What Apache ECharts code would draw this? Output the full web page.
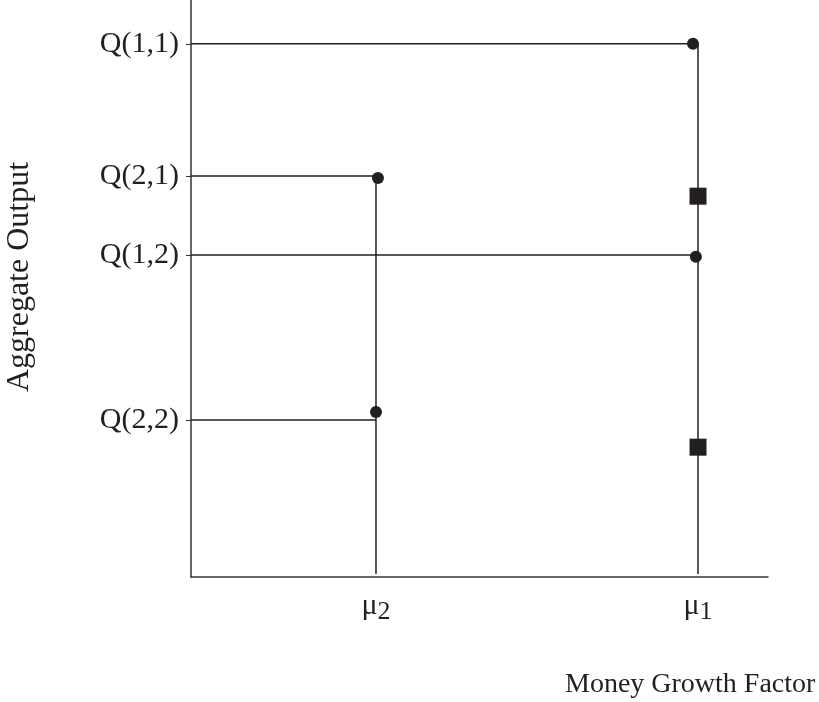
<!DOCTYPE html>
<html>
<head>
<meta charset="utf-8">
<script src="https://cdn.jsdelivr.net/npm/echarts@6/dist/echarts.min.js"></script>
<style>
  html, body { margin: 0; padding: 0; background: #fff; }
  #chart { width: 819px; height: 702px; }
</style>
</head>
<body>
<div id="chart"></div>
<script>
// Output levels (y) and their tick labels
const qLabels = ['Q(1,1)', 'Q(2,1)', 'Q(1,2)', 'Q(2,2)'];
const qLevels = [92.4, 69.5, 55.8, 27.2];
// Money growth factors (x) and labels
const muLabels = ['2', '1'];
const muValues = [32.06, 87.87];
// which mu each Q level reaches (index into muValues)
const qToMu = [1, 0, 1, 0];
// bottom of the vertical drop lines
const dropBottom = 0.52;
// dots near each line corner
const dotPoints = [[87.0, 92.4], [32.4, 69.15], [87.5, 55.5], [32.06, 28.6]];
// square markers on the mu1 line
const squarePoints = [[87.87, 66.0], [87.87, 22.5]];

const serif = "'Liberation Serif', 'Times New Roman', serif";
const ink = '#231f20';

const series = [];
qLevels.forEach((q, i) => {
  series.push({
    type: 'line', silent: true, symbol: 'none',
    lineStyle: { color: ink, width: 1.5 },
    data: [[0, q], [muValues[qToMu[i]], q]]
  });
});
muValues.forEach((m, j) => {
  const top = Math.max(...qLevels.filter((q, i) => qToMu[i] === j));
  series.push({
    type: 'line', silent: true, symbol: 'none',
    lineStyle: { color: ink, width: 1.5 },
    data: [[m, dropBottom], [m, top]]
  });
});
series.push({
  type: 'scatter', symbol: 'circle', symbolSize: 12,
  itemStyle: { color: ink, opacity: 1 }, data: dotPoints, z: 5
});
series.push({
  type: 'scatter', symbol: 'rect', symbolSize: 17,
  itemStyle: { color: ink, opacity: 1 }, data: squarePoints, z: 5
});

function nearestIndex(arr, v) {
  let best = 0;
  arr.forEach((a, i) => { if (Math.abs(a - v) < Math.abs(arr[best] - v)) best = i; });
  return best;
}

const chart = echarts.init(document.getElementById('chart'));
chart.setOption({
  animation: false,
  backgroundColor: '#fff',
  grid: { left: 191, right: 51, top: 0, bottom: 125 },
  xAxis: {
    type: 'value', min: 0, max: 100,
    splitLine: { show: false },
    axisLine: { lineStyle: { color: '#333', width: 1.5 } },
    axisTick: { show: false },
    axisLabel: {
      customValues: muValues,
      margin: 14,
      formatter: v => '{m|μ}{s|' + muLabels[nearestIndex(muValues, v)] + '}',
      rich: {
        m: { fontFamily: serif, fontSize: 30, color: ink, lineHeight: 30, verticalAlign: 'top' },
        s: { fontFamily: serif, fontSize: 26, color: ink, lineHeight: 30, padding: [12, 0, 0, 0] }
      }
    }
  },
  yAxis: {
    type: 'value', min: 0, max: 100,
    splitLine: { show: false },
    axisLine: { lineStyle: { color: '#333', width: 1.5 } },
    axisTick: { customValues: qLevels, length: 5, lineStyle: { color: '#333' } },
    axisLabel: {
      customValues: qLevels,
      margin: 12,
      fontFamily: serif, fontSize: 30, color: ink,
      formatter: v => qLabels[nearestIndex(qLevels, v)]
    }
  },
  graphic: [
    {
      type: 'text', left: 565, top: 671,
      style: { text: 'Money Growth Factor', font: '28px ' + serif, fill: ink }
    },
    {
      type: 'text', x: 20, y: 277, rotation: Math.PI / 2,
      style: { text: 'Aggregate Output', font: '32px ' + serif, fill: ink,
               align: 'center', verticalAlign: 'middle' }
    }
  ],
  series: series
});
</script>
</body>
</html>
